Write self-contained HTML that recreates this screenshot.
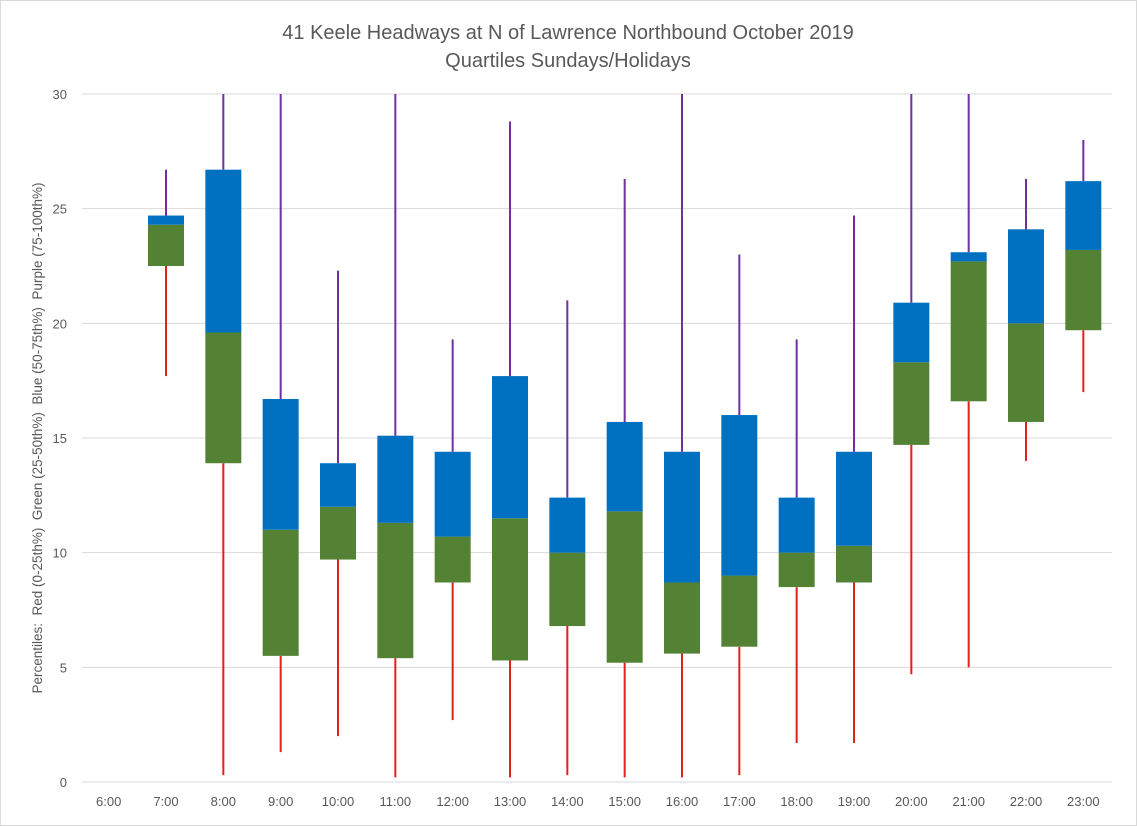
<!DOCTYPE html>
<html><head><meta charset="utf-8"><style>
body{margin:0;background:#fff;}
svg{display:block;font-family:"Liberation Sans",sans-serif;}
</style></head><body>
<svg id="chart" width="1137" height="826">
<rect x="0.5" y="0.5" width="1136" height="825" fill="#fff" stroke="#d9d9d9"/>
<text x="568" y="39" text-anchor="middle" font-size="20" fill="#595959">41 Keele Headways at N of Lawrence Northbound October 2019</text>
<text x="568" y="67" text-anchor="middle" font-size="20" fill="#595959">Quartiles Sundays/Holidays</text>
<text transform="translate(42,438) rotate(-90)" text-anchor="middle" font-size="13.5" fill="#595959" style="white-space:pre" xml:space="preserve">Percentiles:  Red (0-25th%)  Green (25-50th%)  Blue (50-75th%)  Purple (75-100th%)</text>
<g id="grid"></g><g id="marks"></g><g id="labels"></g>
</svg>
<script>
const categories=["6:00","7:00","8:00","9:00","10:00","11:00","12:00","13:00","14:00","15:00","16:00","17:00","18:00","19:00","20:00","21:00","22:00","23:00"];
const minVals=[null,17.7,0.3,1.3,2.0,0.2,2.7,0.2,0.3,0.2,0.2,0.3,1.7,1.7,4.7,5.0,14.0,17.0];
const q1Vals=[null,22.5,13.9,5.5,9.7,5.4,8.7,5.3,6.8,5.2,5.6,5.9,8.5,8.7,14.7,16.6,15.7,19.7];
const medVals=[null,24.3,19.6,11.0,12.0,11.3,10.7,11.5,10.0,11.8,8.7,9.0,10.0,10.3,18.3,22.7,20.0,23.2];
const q3Vals=[null,24.7,26.7,16.7,13.9,15.1,14.4,17.7,12.4,15.7,14.4,16.0,12.4,14.4,20.9,23.1,24.1,26.2];
const maxVals=[null,26.7,30,30,22.3,30,19.3,28.8,21.0,26.3,30,23.0,19.3,24.7,30,30,26.3,28.0];
const yTicks=[0,5,10,15,20,25,30];
const NS="http://www.w3.org/2000/svg";
const L=80,R=1112,T=94,B=782,yMax=30;
const band=(R-L)/categories.length;
const y=v=>B-(v/yMax)*(B-T);
const x=i=>L+band*(i+0.5);
function mk(tag,attrs,parent){const e=document.createElementNS(NS,tag);for(const k in attrs)e.setAttribute(k,attrs[k]);document.getElementById(parent).appendChild(e);return e;}
yTicks.forEach(t=>{
  const g=mk("line",{x1:82,x2:R,y1:y(t),y2:y(t),stroke:"#d9d9d9","stroke-width":1},"grid");
  
  
  const tx=mk("text",{x:67,y:y(t)+5,"text-anchor":"end","font-size":13,fill:"#595959"},"labels");
  tx.textContent=t;
  
  
});
categories.forEach((c,i)=>{
  const tx=mk("text",{x:x(i),y:806,"text-anchor":"middle","font-size":13,fill:"#595959"},"labels");
  tx.textContent=c;
  
  
  if(minVals[i]==null)return;
  const cx=x(i),w=36;
  const lo=mk("line",{x1:cx,x2:cx,y1:y(minVals[i]),y2:y(q1Vals[i]),stroke:"#e0201b","stroke-width":2},"marks");
  
  
  const hi=mk("line",{x1:cx,x2:cx,y1:y(q3Vals[i]),y2:y(maxVals[i]),stroke:"#7030a0","stroke-width":2},"marks");
  
  
  const g=mk("rect",{x:cx-w/2,y:y(medVals[i]),width:w,height:y(q1Vals[i])-y(medVals[i]),fill:"#548235"},"marks");
  
  
  const b=mk("rect",{x:cx-w/2,y:y(q3Vals[i]),width:w,height:y(medVals[i])-y(q3Vals[i]),fill:"#0070c0"},"marks");
  
  
});
</script>
</body></html>
